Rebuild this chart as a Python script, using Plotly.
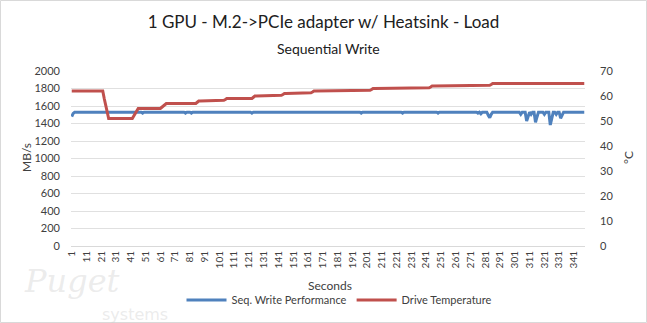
import plotly.graph_objects as go

# ---- data ----
title_text = "1 GPU - M.2->PCIe adapter w/ Heatsink - Load"
subtitle_text = "Sequential Write"
series_names = ["Seq. Write Performance", "Drive Temperature"]

# Drive temperature (°C), as (value, run length) pairs, 348 samples
temp_runs = [
    (62, 22), (59, 1), (56, 1), (53, 1), (51, 17),
    (52, 1), (53, 1), (54, 1), (55, 16),
    (55.5, 1), (56, 1), (56.5, 1), (57, 21),
    (57.5, 1), (58, 17),
    (58.3, 1), (58.6, 1), (59, 18),
    (59.5, 1), (60, 18),
    (60.3, 1), (60.6, 1), (61, 18),
    (61.3, 1), (61.6, 1), (62, 38),
    (62.3, 1), (62.6, 1), (63, 38),
    (63.3, 1), (63.6, 1), (64, 39),
    (64.3, 1), (64.6, 1), (65, 63),
]

# Sequential write performance (MB/s), as (value, run length) pairs
perf_runs = [
    (1480, 1), (1515, 1), (1530, 46), (1518, 1), (1530, 28), (1518, 1),
    (1530, 3), (1518, 1), (1530, 40), (1518, 1), (1530, 73), (1518, 1),
    (1530, 27), (1518, 1), (1530, 23), (1518, 1), (1530, 26), (1518, 1),
    (1530, 1), (1512, 1), (1530, 4), (1495, 1), (1466, 1), (1505, 1),
    (1530, 19), (1505, 1), (1530, 3), (1428, 1), (1485, 1), (1530, 1),
    (1505, 1), (1530, 2), (1413, 1), (1475, 1), (1530, 4), (1505, 1),
    (1530, 3), (1383, 1), (1460, 1), (1530, 2), (1505, 1), (1530, 2),
    (1460, 1), (1505, 1), (1530, 15),
]

left_ticks = [0, 200, 400, 600, 800, 1000, 1200, 1400, 1600, 1800, 2000]
right_ticks = [0, 10, 20, 30, 40, 50, 60, 70]
x_tick_labels = [1 + 10 * i for i in range(35)]


def expand(runs):
    out = []
    for v, n in runs:
        out.extend([v] * n)
    return out


temperature = expand(temp_runs)
performance = expand(perf_runs)
seconds = list(range(1, len(temperature) + 1))
perf_x = list(range(1, len(performance) + 1))

W, H = 647, 323
ml, mr, mt, mb = 71, 62, 71, 77
pw, ph = W - ml - mr, H - mt - mb

FONT = "Lato, Carlito, 'Open Sans', sans-serif"
BLUE = "#4F81BD"
RED = "#C0504D"

fig = go.Figure()
fig.add_trace(go.Scatter(
    x=perf_x, y=performance, name=series_names[0], mode="lines",
    line=dict(color=BLUE, width=3), yaxis="y"))
fig.add_trace(go.Scatter(
    x=seconds, y=temperature, name=series_names[1], mode="lines",
    line=dict(color=RED, width=3), yaxis="y2"))

fig.update_layout(
    width=W, height=H,
    margin=dict(l=ml, r=mr, t=mt, b=mb, pad=0),
    paper_bgcolor="white", plot_bgcolor="white",
    font=dict(family=FONT, color="#404040", size=12),
    showlegend=True,
    title=dict(text=title_text, x=0.5, xref="container", xanchor="center",
               y=1 - 22 / H, yref="container", yanchor="middle",
               font=dict(size=17, color="#202020", family=FONT)),
    xaxis=dict(
        range=[0.5, len(seconds) + 0.5],
        tickmode="array", tickvals=x_tick_labels,
        ticktext=[str(v) for v in x_tick_labels],
        tickangle=-90, tickfont=dict(size=10, color="#404040"),
        showgrid=False, zeroline=False, showline=True,
        linecolor="#d9d9d9", linewidth=1, ticks="", ticklen=0,
    ),
    yaxis=dict(
        range=[0, 2000], tickvals=left_ticks,
        tickfont=dict(size=11, color="#404040"),
        showgrid=True, gridcolor="#e0e0e0", gridwidth=1,
        zeroline=False, showline=False, ticks="", ticklabelstandoff=10,
    ),
    yaxis2=dict(
        range=[0, 70], tickvals=right_ticks, overlaying="y", side="right",
        tickfont=dict(size=11, color="#404040"),
        showgrid=False, zeroline=False, showline=False, ticks="",
        ticklabelstandoff=14,
    ),
    legend=dict(
        orientation="h", x=339 / W, xref="container", xanchor="center",
        y=1 - 300 / H, yref="container", yanchor="middle",
        font=dict(size=11, color="#404040"), itemwidth=40,
        bgcolor="rgba(0,0,0,0)", tracegroupgap=0,
    ),
)

# subtitle and axis titles
fig.add_annotation(text=subtitle_text, x=0.5, xref="paper", xanchor="center",
                   y=1 + (71 - 48) / ph, yref="paper", yanchor="middle",
                   showarrow=False, font=dict(size=14, color="#202020"))
fig.add_annotation(text="MB/s", textangle=-90, x=(26 - ml) / pw, xref="paper",
                   xanchor="center", y=(246 - 158) / ph, yref="paper",
                   yanchor="middle", showarrow=False,
                   font=dict(size=12, color="#404040"))
fig.add_annotation(text="°C", textangle=-90, x=(628 - ml) / pw, xref="paper",
                   xanchor="center", y=(246 - 158) / ph, yref="paper",
                   yanchor="middle", showarrow=False,
                   font=dict(size=12, color="#404040"))
fig.add_annotation(text="Seconds", x=(330 - ml) / pw, xref="paper",
                   xanchor="center", y=(246 - 285) / ph, yref="paper",
                   yanchor="middle", showarrow=False,
                   font=dict(size=12, color="#404040"))

# watermark
fig.add_annotation(text="<i>Puget</i>", x=(22 - ml) / pw, xref="paper",
                   xanchor="left", y=(246 - 281) / ph, yref="paper",
                   yanchor="middle", showarrow=False,
                   font=dict(size=32, color="rgba(200,200,200,0.35)",
                             family="'DejaVu Serif', serif"))
fig.add_annotation(text="systems", x=(100 - ml) / pw, xref="paper",
                   xanchor="left", y=(246 - 314) / ph, yref="paper",
                   yanchor="middle", showarrow=False,
                   font=dict(size=16, color="rgba(205,205,205,0.4)",
                             family="'DejaVu Sans', sans-serif"))

# outer border
fig.add_shape(type="rect", xref="paper", yref="paper",
              x0=(0.5 - ml) / pw, x1=(W - 0.5 - ml) / pw,
              y0=(246 - (H - 0.5)) / ph, y1=(246 - 0.5) / ph,
              line=dict(color="#d9d9d9", width=1), fillcolor="rgba(0,0,0,0)",
              layer="below")

fig.write_html("out.html")
